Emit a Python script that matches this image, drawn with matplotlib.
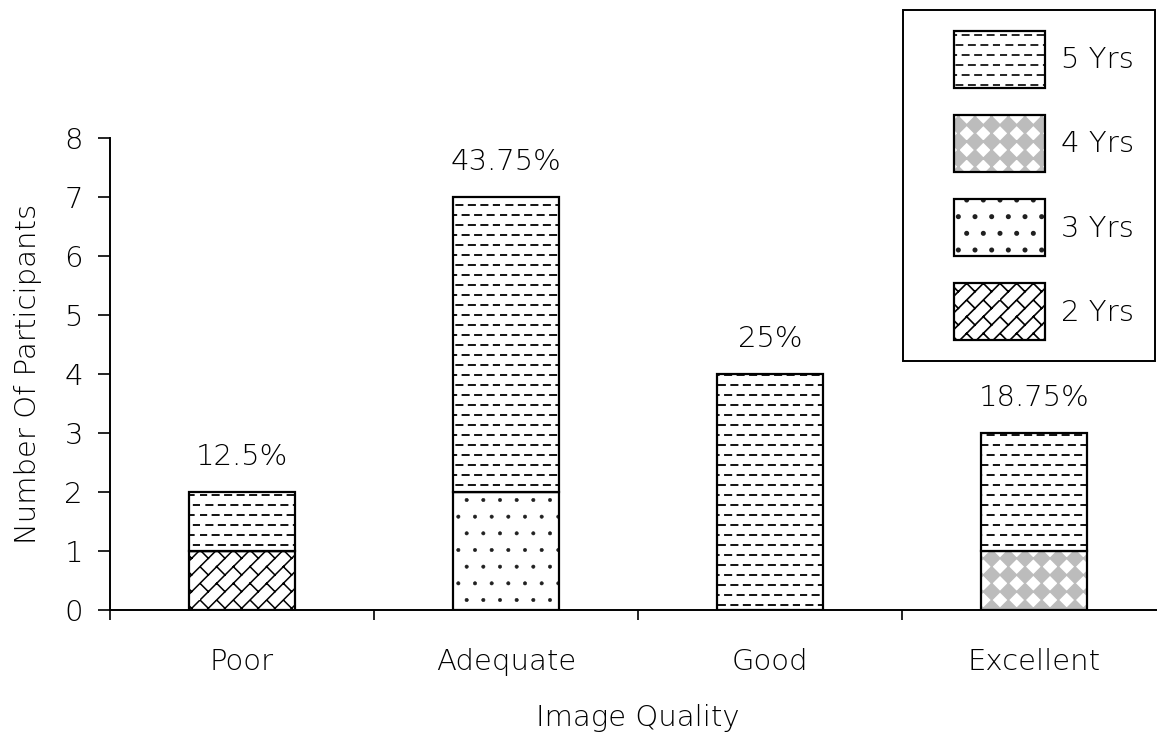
import warnings
import numpy as np
import matplotlib
matplotlib.use("Agg")
import matplotlib.pyplot as plt
import matplotlib.hatch as mhatch
from matplotlib.path import Path
from matplotlib.patches import Patch, Rectangle
from matplotlib.legend_handler import HandlerPatch, HandlerTuple

warnings.filterwarnings("ignore")

categories = ["Poor", "Adequate", "Good", "Excellent"]
series_names = ["2 Yrs", "3 Yrs", "4 Yrs", "5 Yrs"]
yrs2 = [1, 0, 0, 0]
yrs3 = [0, 2, 0, 0]
yrs4 = [0, 0, 0, 1]
yrs5 = [1, 5, 4, 2]


# excel-like fill patterns, added as extra hatch letters
class TileHatch(mhatch.HatchPatternBase):
    char = None
    nx = ny = 1
    segs = []
    polys = []

    def __init__(self, hatch, density):
        self.num_vertices = 0
        if hatch and self.char in hatch:
            verts, codes = [], []
            for i in range(self.nx):
                for j in range(self.ny):
                    for seg in self.segs:
                        for k, (x, y) in enumerate(seg):
                            verts.append(((x + i) / self.nx, (y + j) / self.ny))
                            codes.append(Path.MOVETO if k == 0 else Path.LINETO)
                    for poly in self.polys:
                        for k, (x, y) in enumerate(list(poly) + [poly[0]]):
                            verts.append(((x + i) / self.nx, (y + j) / self.ny))
                            codes.append(Path.MOVETO if k == 0 else Path.LINETO)
                        codes[-1] = Path.CLOSEPOLY
            self.verts = np.array(verts)
            self.codes = np.array(codes)
            self.num_vertices = len(verts)

    def set_vertices_and_codes(self, vertices, codes):
        vertices[:] = self.verts
        codes[:] = self.codes


class DashHatch(TileHatch):
    char = "d"
    nx, ny = 8, 5
    segs = [[(0.0, 0.25), (0.5, 0.25)], [(0.5, 0.75), (1.0, 0.75)]]


class BrickHatch(TileHatch):
    char = "b"
    nx = ny = 6
    segs = [[(0, 0), (1, 1)], [(0.5, 0.5), (0, 1)]]


class DiamondHatch(TileHatch):
    char = "v"
    nx = ny = 6
    polys = [[(0.5, 0), (1, 0.5), (0.5, 1), (0, 0.5)]]


mhatch._hatch_types += [DashHatch, BrickHatch, DiamondHatch]

plt.rcParams["font.family"] = ["DejaVu Sans"]
plt.rcParams["font.weight"] = "light"
plt.rcParams["axes.labelweight"] = "light"
plt.rcParams["hatch.linewidth"] = 1.2
FS = 21

hatches = ["b", ".", "v", "d"]
hatch_colors = ["black", "#202020", "#bcbcbc", "black"]
hatch_lw = [1.1, 0.4, 1.0, 1.3]
values = [yrs2, yrs3, yrs4, yrs5]

fig = plt.figure(figsize=(11.57, 7.37), dpi=100)
ax = fig.add_axes([110 / 1157, 127 / 737, 1056 / 1157, 472 / 737])

x = np.arange(len(categories))
bottom = np.zeros(len(categories))
for vals, h, hc, hl in zip(values, hatches, hatch_colors, hatch_lw):
    with plt.rc_context({"hatch.linewidth": hl}):
        bars = ax.bar(x, vals, 0.4, bottom=bottom, color="white", edgecolor=hc,
                      linewidth=0, hatch=h)
    for b in bars:
        if hasattr(b, "set_hatch_linewidth"):
            b.set_hatch_linewidth(hl)
    ax.bar(x, vals, 0.4, bottom=bottom, fill=False, edgecolor="black",
           linewidth=1.6)
    bottom += np.array(vals)

totals = bottom
for xi, t in zip(x, totals):
    ax.text(xi, t + 0.6, f"{t / totals.sum() * 100:g}%", ha="center",
            va="center", fontsize=FS)

ax.set_xlim(-0.5, 3.5)
ax.set_ylim(0, 8)
ax.set_yticks(range(9))
ax.set_xticks(x)
ax.set_xticklabels(categories)
ax.set_xticks(np.arange(-0.5, 4, 1), minor=True)
ax.tick_params(axis="x", which="major", length=0, pad=27, labelsize=FS)
ax.tick_params(axis="x", which="minor", length=7, width=1.2)
ax.tick_params(axis="y", length=8.5, width=1.2, pad=11, labelsize=FS)
for s in ["top", "right"]:
    ax.spines[s].set_visible(False)
for s in ["left", "bottom"]:
    ax.spines[s].set_linewidth(1.4)

ax.set_xlabel("Image Quality", fontsize=FS)
ax.xaxis.set_label_coords(0.5, -0.2)
ax.set_ylabel("Number Of Participants", fontsize=FS)
ax.yaxis.set_label_coords(-0.064, 0.5)


def inset_patch(legend, orig_handle, xdescent, ydescent, width, height, fontsize):
    off = 21.6
    return Rectangle((-xdescent + off, -ydescent), width - off, height)


handles = []
for h, hc, hl in zip(hatches, hatch_colors, hatch_lw):
    with plt.rc_context({"hatch.linewidth": hl}):
        hp = Patch(facecolor="white", edgecolor=hc, linewidth=0, hatch=h)
    handles.append((hp, Patch(fill=False, edgecolor="black", linewidth=1.6)))
leg = fig.legend(handles[::-1], series_names[::-1], loc="upper right",
                 bbox_to_anchor=(1155 / 1157, 1 - 10 / 737), borderaxespad=0,
                 fontsize=FS, handlelength=4.15, handleheight=2.63,
                 labelspacing=0.93, handletextpad=0.55, borderpad=0.72,
                 fancybox=False, framealpha=1, edgecolor="black",
                 handler_map={Patch: HandlerPatch(patch_func=inset_patch),
                              tuple: HandlerTuple(ndivide=1)})
leg.get_frame().set_linewidth(1.4)

fig.savefig("out.png", dpi=100)
